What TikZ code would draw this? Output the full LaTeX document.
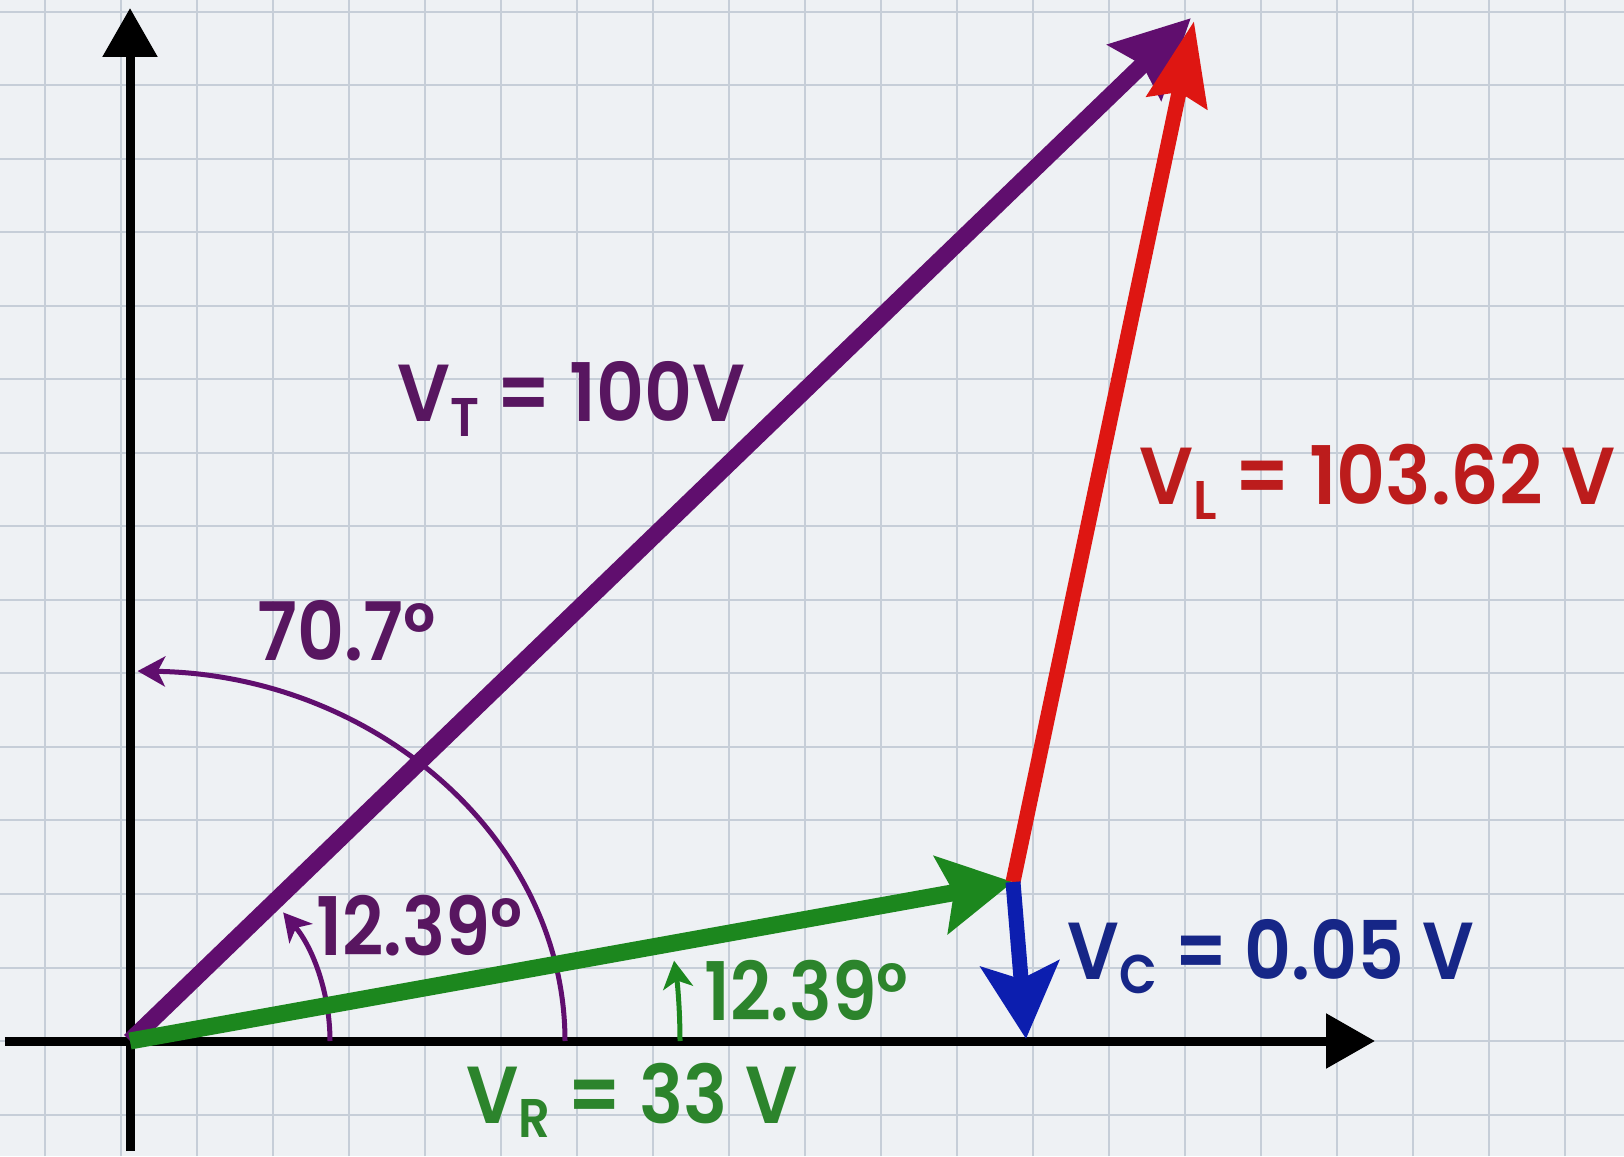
\documentclass[tikz,border=0pt]{standalone}
\usepackage{fontspec}
\IfFontExistsTF{Poppins SemiBold}{\setmainfont{Poppins SemiBold}}{\setmainfont{Poppins}}
\usetikzlibrary{arrows.meta}

\definecolor{paper}{RGB}{238,241,244}
\definecolor{gridline}{RGB}{198,206,216}
\definecolor{vtline}{RGB}{96,14,110}
\definecolor{vttext}{RGB}{88,22,96}
\definecolor{vlline}{RGB}{222,22,18}
\definecolor{vltext}{RGB}{188,28,28}
\definecolor{vrline}{RGB}{28,135,30}
\definecolor{vrtext}{RGB}{44,132,44}
\definecolor{vcline}{RGB}{12,30,175}
\definecolor{vctext}{RGB}{22,38,135}

\newcommand{\lowsub}[1]{\raisebox{-8pt}{\fontsize{31}{31}\selectfont #1}}
\newcommand{\squeeze}[2]{\scalebox{#1}[1]{#2}}

\begin{document}
\begin{tikzpicture}[
  axis/.style={line width=0.18cm, draw=black, -{Triangle[length=0.98cm,width=1.06cm]}},
  gridl/.style={line width=0.04cm, draw=gridline},
  lbl/.style={anchor=base west, inner sep=0pt, font=\fontsize{46}{50}\selectfont},
  anglearc/.style={line width=0.1cm, -{Stealth[length=0.55cm,width=0.6cm,inset=0.15cm]}}
]

  % --- Papel cuadriculado ---
  \fill[paper] (-2.6,-2.3) rectangle (29.88,20.82);
  \useasboundingbox (-2.6,-2.3) rectangle (29.88,20.82);
  \foreach \i in {0,...,21} {
    \draw[gridl] (-1.7+1.52*\i,-2.3) -- (-1.7+1.52*\i,20.82);
  }
  \foreach \j in {-1,...,14} {
    \draw[gridl] (-2.6,1.47*\j) -- (29.88,1.47*\j);
  }

  % --- Ejes ---
  \coordinate (O) at (0,0);
  \coordinate (ytop) at (0,20.66);
  \coordinate (ybot) at (0,-2.2);
  \coordinate (xleft) at (-2.5,0);
  \coordinate (xright) at (24.9,0);

  \draw[axis] (ybot) -- (ytop);
  \draw[axis] (xleft) -- (xright);

  % --- Puntas de los fasores ---
  \coordinate (R) at (17.66,3.18);
  \coordinate (C) at (17.92,0.04);
  \coordinate (L) at (21.28,20.4);
  \coordinate (T) at (21.22,20.46);

  % --- Arcos de angulo ---
  \draw[anglearc, vtline] (O) ++(8.7,0) arc[start angle=0, end angle=89, x radius=8.7, y radius=7.4];
  \draw[anglearc, vtline] (O) ++(4,0) arc[start angle=0, end angle=40, radius=4];
  \draw[anglearc, vrline] (O) ++(11,0) arc[start angle=0, end angle=8.4, radius=11];

  % --- Fasores ---
  \draw[vtline, line width=0.34cm, -{Stealth[length=1.55cm,width=1.5cm,inset=0.2cm]}] (O) -- (T);
  \draw[vrline, line width=0.34cm, -{Stealth[length=1.45cm,width=1.55cm,inset=0.25cm]}] (O) -- (R);
  \draw[vlline, line width=0.3cm, -{Stealth[length=1.65cm,width=1.2cm,inset=0.2cm]}] (R) -- (L);
  \draw[vcline, line width=0.3cm, -{Stealth[length=1.5cm,width=1.55cm,inset=0.3cm]}] (R) -- (C);

  % --- Etiquetas ---
  \node[lbl, text=vttext] (vtlabel) at (5.34,12.38) {\squeeze{0.92}{V\lowsub{T} = 100V}};
  \node[lbl, text=vltext] (vllabel) at (20.18,10.72) {\squeeze{0.94}{V\lowsub{L} = 103.62 V}};
  \node[lbl, text=vttext] (biglabel) at (2.54,7.6) {\squeeze{0.9}{70.7°}};
  \node[lbl, text=vttext] (inlabel) at (3.72,1.72) {\squeeze{0.89}{12.39°}};
  \node[lbl, text=vrtext] (grlabel) at (11.48,0.42) {\squeeze{0.88}{12.39°}};
  \node[lbl, text=vctext] (vclabel) at (18.74,1.24) {\squeeze{0.9}{V\lowsub{C} = 0.05 V}};
  \node[lbl, text=vrtext] (vrlabel) at (6.72,-1.64) {\squeeze{0.91}{V\lowsub{R} = 33 V}};

\end{tikzpicture}
\end{document}
